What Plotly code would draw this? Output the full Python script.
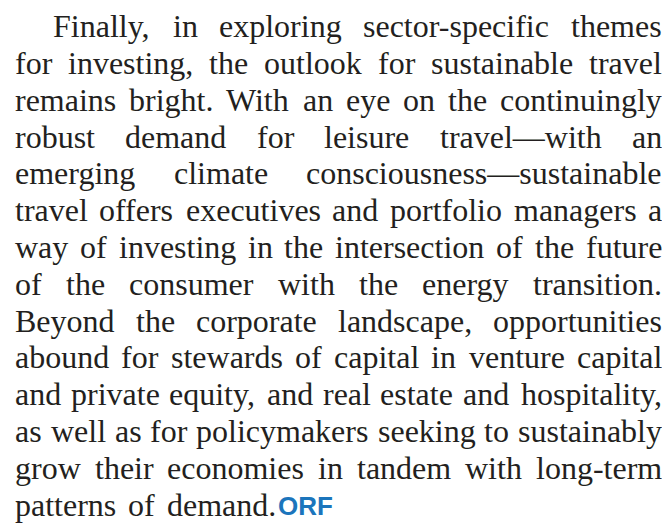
import plotly.graph_objects as go

# ---- content (text lines as set in the reference) ----
lines = [
    "Finally, in exploring sector-specific themes",
    "for investing, the outlook for sustainable travel",
    "remains bright. With an eye on the continuingly",
    "robust demand for leisure travel\u2014with an",
    "emerging climate consciousness\u2014sustainable",
    "travel offers executives and portfolio managers a",
    "way of investing in the intersection of the future",
    "of the consumer with the energy transition.",
    "Beyond the corporate landscape, opportunities",
    "abound for stewards of capital in venture capital",
    "and private equity, and real estate and hospitality,",
    "as well as for policymakers seeking to sustainably",
    "grow their economies in tandem with long-term",
    "patterns of demand.",
]
justified = [True] * 13 + [False]
logo_text = "ORF"

# ---- layout settings (window pixel coordinates) ----
W, H = 670, 529
PAGE_MARGIN = 8          # default body margin of the written page
left_x, right_x, indent_x = 15, 662, 53
baseline0, line_gap = 37, 36.8
font_size = 32
text_color = "#231f20"
font_family = "Liberation Serif, Times New Roman, serif"
logo_size = 26
logo_color = "#1b75bc"

# Times/Liberation Serif advance widths (1/1000 em)
WID = dict(zip("abcdefghijklmnopqrstuvwxyz",
               [444, 500, 444, 500, 444, 333, 500, 500, 278, 278, 500, 278, 778,
                500, 500, 500, 500, 333, 389, 278, 500, 500, 722, 500, 500, 444]))
WID.update(dict(zip("ABCDEFGHIJKLMNOPQRSTUVWXYZ",
                    [722, 667, 667, 722, 611, 556, 722, 722, 333, 389, 722, 611, 889,
                     722, 722, 556, 722, 667, 556, 611, 722, 722, 944, 722, 722, 611])))
WID.update({" ": 250, ",": 250, ".": 250, "-": 333, "\u2014": 1000, "'": 333})


def text_width(s):
    return sum(WID.get(c, 500) for c in s) * font_size / 1000.0


annotations = []
y_off = (0.891 - 0.216) / 2 * font_size
last_end = 0
for i, line in enumerate(lines):
    words = line.split(" ")
    x0 = indent_x if i == 0 else left_x
    ws = [text_width(w) for w in words]
    if justified[i] and len(words) > 1:
        gap = (right_x - x0 - sum(ws)) / (len(words) - 1)
    else:
        gap = text_width(" ") * 1.5
    yc = baseline0 + i * line_gap - y_off
    x = x0
    for j, w in enumerate(words):
        if justified[i] and j == len(words) - 1 and len(words) > 1:
            ax, anc = right_x, "right"
        else:
            ax, anc = x, "left"
        annotations.append(dict(
            x=ax, y=yc, xref="x", yref="y", text=w, showarrow=False,
            xanchor=anc, yanchor="middle", borderpad=0, borderwidth=0,
            font=dict(family=font_family, size=font_size, color=text_color),
        ))
        x += ws[j] + gap
    last_end = x - gap

# logo text right after the final word, sharing its baseline
last_baseline = baseline0 + (len(lines) - 1) * line_gap
annotations.append(dict(
    x=last_end + 2, y=last_baseline - (0.905 - 0.212) / 2 * logo_size,
    xref="x", yref="y",
    text="<b>" + logo_text + "</b>", showarrow=False, xanchor="left", yanchor="middle",
    borderpad=0, borderwidth=0,
    font=dict(family="Liberation Sans, Arial, sans-serif", size=logo_size, color=logo_color),
))

fig = go.Figure()
fig.update_layout(
    width=W - PAGE_MARGIN, height=H - PAGE_MARGIN,
    margin=dict(l=0, r=0, t=0, b=0),
    paper_bgcolor="white", plot_bgcolor="white",
    xaxis=dict(range=[PAGE_MARGIN, W], visible=False, fixedrange=True),
    yaxis=dict(range=[H, PAGE_MARGIN], visible=False, fixedrange=True),
    annotations=annotations,
    showlegend=False,
)
fig.write_html("out.html")
